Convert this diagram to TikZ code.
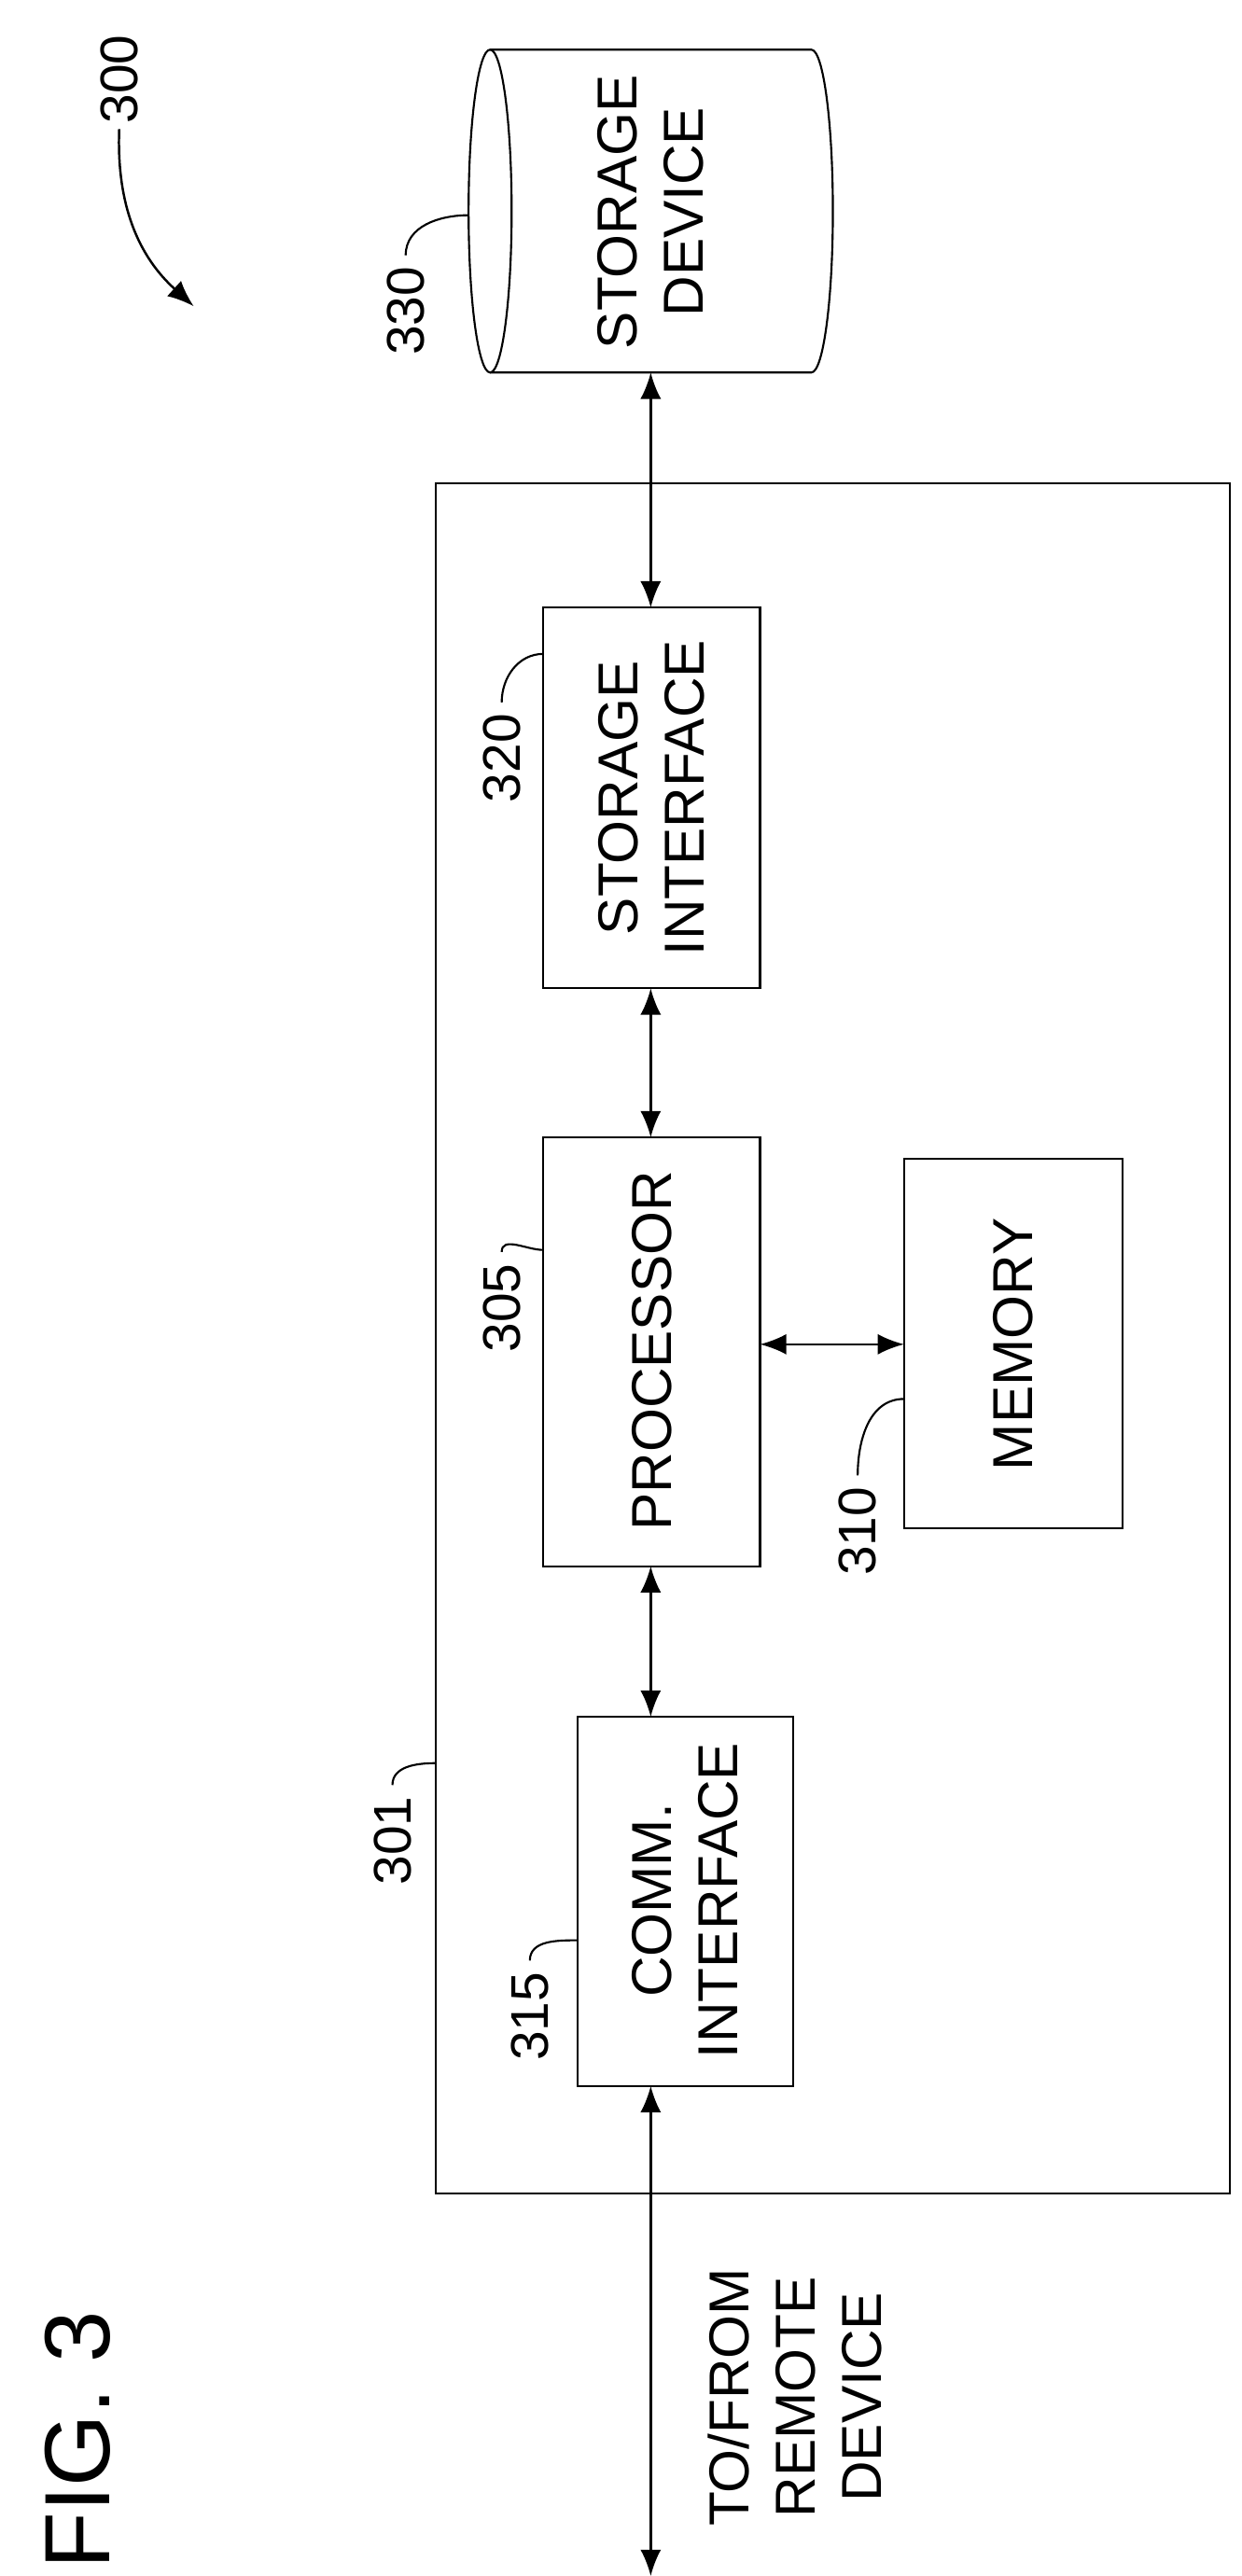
\documentclass[tikz,border=0pt]{standalone}
\usepackage{fontspec}
\setmainfont{Liberation Sans}
\usetikzlibrary{positioning,arrows.meta}
\tikzset{>={Latex[width=2.2mm,length=2.8mm]}}
\tikzset{
  blk/.style={draw, line width=0.6pt},
  txt/.style={rotate=90, align=center, font=\fontsize{17}{20}\selectfont},
  num/.style={rotate=90, font=\fontsize{16}{18}\selectfont},
  lead/.style={line width=0.6pt},
  link/.style={<->, line width=0.7pt}
}
\begin{document}
\begin{tikzpicture}[x=0.5pt,y=-0.5pt]
  \useasboundingbox (0,0) rectangle (750,1556);
  % outer device
  \draw[blk] (263,292) rectangle (743,1325);
  % blocks
  \draw[blk] (328,367) rectangle (459,597);
  \node[txt] (storif) at (393.5,482) {STORAGE\\INTERFACE};
  \draw[blk] (328,687) rectangle (459,946);
  \node[txt] (proc) at (393.5,816) {PROCESSOR};
  \draw[blk] (546,700) rectangle (678,923);
  \node[txt] (mem) at (612,812) {MEMORY};
  \draw[blk] (349,1037) rectangle (479,1260);
  \node[txt] (comm) at (414,1148) {COMM.\\INTERFACE};
  % storage device
  \draw[blk] (296,30) -- (490,30) arc[start angle=-90,end angle=90,x radius=13,y radius=97.5] -- (296,225);
  \draw[blk] (296,127.5) ellipse [x radius=13, y radius=97.5];
  \node[txt] (stor) at (393,128) {STORAGE\\DEVICE};
  % connectors
  \coordinate (cylB) at (393,225);
  \coordinate (sifT) at (393,367);
  \coordinate (sifB) at (393,597);
  \coordinate (prT) at (393,687);
  \coordinate (prB) at (393,946);
  \coordinate (prR) at (459,812);
  \coordinate (meL) at (546,812);
  \coordinate (coT) at (393,1037);
  \coordinate (coB) at (393,1260);
  \coordinate (far) at (393,1556);
  \draw[link] (cylB) -- (sifT);
  \draw[link] (sifB) -- (prT);
  \draw[link] (prB) -- (coT);
  \draw[link] (prR) -- (meL);
  \draw[link] (coB) -- (far);
  \node[txt] (remote) at (480,1448) {TO/FROM\\REMOTE\\DEVICE};
  \node[rotate=90, font=\fontsize{28}{32}\selectfont] (fig) at (47,1474) {FIG. 3};
  % reference numerals
  \node[num] (n300) at (72,48) {300};
  \draw[->, line width=0.7pt] (72,78) to[bend right=25] (117,185);
  \node[num] (n330) at (245,188) {330};
  \draw[lead] (n330.east) to[out=90,in=180] (283,130);
  \node[num] (n320) at (303,458) {320};
  \draw[lead] (n320.east) to[out=90,in=180] (328,395);
  \node[num] (n305) at (303,790) {305};
  \draw[lead] (n305.east) to[out=90,in=180] (328,755);
  \node[num] (n310) at (518,925) {310};
  \draw[lead] (n310.east) to[out=90,in=180] (546,845);
  \node[num] (n301) at (237,1112) {301};
  \draw[lead] (n301.east) to[out=90,in=180] (263,1065);
  \node[num] (n315) at (320,1218) {315};
  \draw[lead] (n315.east) to[out=90,in=180] (349,1172);
\end{tikzpicture}
\end{document}
